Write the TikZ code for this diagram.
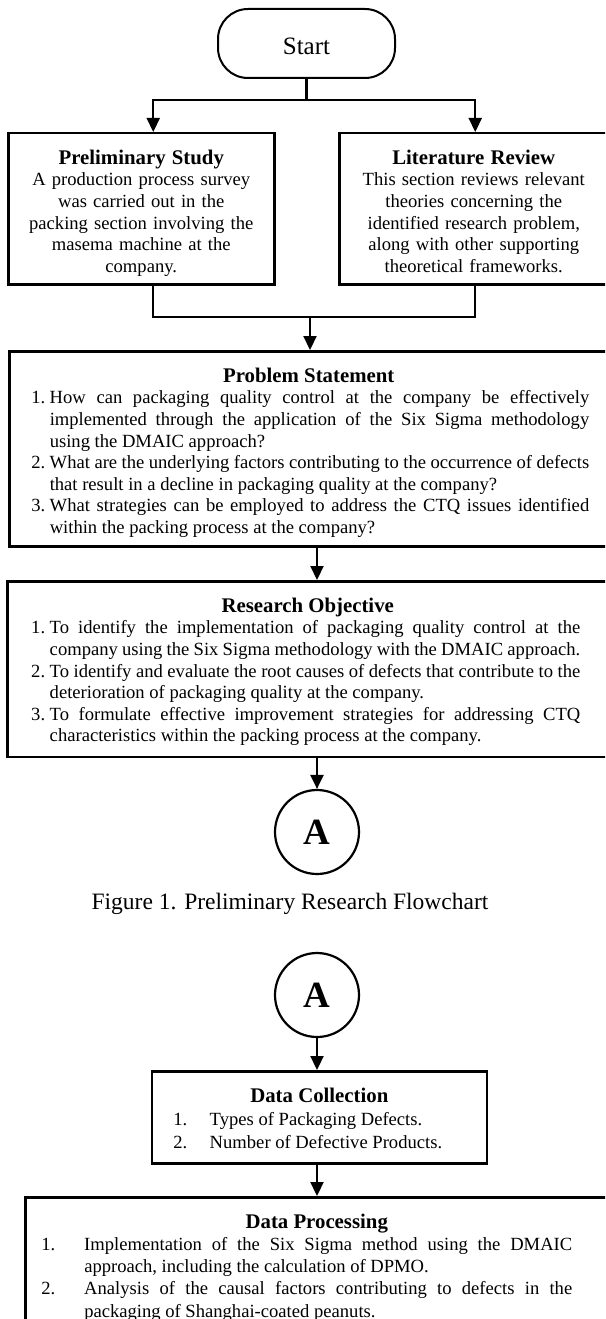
\documentclass[tikz,border=0pt]{standalone}
\usepackage{fontspec}
\setmainfont{Liberation Serif}
\usetikzlibrary{arrows.meta,positioning}

\newcommand{\headfont}{\fontsize{20.8}{21.6}\selectfont\bfseries}
\newcommand{\boxhead}[1]{\rule{0pt}{31pt}{\centering\headfont #1\par}}
\newcommand{\numitem}[3]{\hangindent=#2\hangafter=1\noindent\makebox[#2][l]{#1}#3\par}
\newcommand{\botpad}[1]{\rule[-#1]{0pt}{#1}}

\begin{document}
\begin{tikzpicture}[x=1pt, y=-1pt,
	font=\fontsize{18.6}{21.6}\selectfont,
	link/.style={line width=2.2pt},
	flow/.style={link, -{Triangle[length=14pt,width=13pt]}},
	bigbox/.style={draw, line width=2.5pt, inner xsep=4pt, inner ysep=0pt, anchor=north west},
	connector/.style={draw, circle, line width=2.2pt, minimum size=84pt, inner sep=0pt, font=\fontsize{37}{37}\selectfont\bfseries}]
		\useasboundingbox (0,0) rectangle (605,1319);
		\clip (0,0) rectangle (605,1319);
		% Start
		\node[draw, line width=2pt, rounded corners=30pt, minimum width=177pt, minimum height=69pt, text height=22pt, font=\fontsize{25}{25}\selectfont] (start) at (306.5,43.5) {Start};
		\coordinate[below=21pt of start] (split);
		% Study and review
		\node[bigbox, align=center, text width=258pt] (prelim) at (7,132) {\rule{0pt}{31pt}{\headfont Preliminary Study}\\A production process survey\\was carried out in the\\packing section involving the\\masema machine at the\\company.\botpad{12pt}};
		\node[bigbox, align=center, text width=261pt] (litrev) at (338,132) {\rule{0pt}{31pt}{\headfont Literature Review}\\This section reviews relevant\\theories concerning the\\identified research problem,\\along with other supporting\\theoretical frameworks.\botpad{12pt}};
		\draw[flow] (start) -- (split) -| ([xshift=12pt]prelim.north);
		\draw[flow] (split) -| ([xshift=1.5pt]litrev.north);
		% Problem statement
		\node[bigbox, align=justify, text width=591pt] (problem) at (8,350) {\boxhead{Problem Statement}
			{\leftskip=18pt\rightskip=15pt
			\numitem{1.}{18.5pt}{How can packaging quality control at the company be effectively\linebreak implemented through the application of the Six Sigma methodology\linebreak using the DMAIC approach?}
			\numitem{2.}{18.5pt}{What are the underlying factors contributing to the occurrence of defects\linebreak that result in a decline in packaging quality at the company?}
			\numitem{3.}{18.5pt}{What strategies can be employed to address the CTQ issues identified\linebreak within the packing process at the company?\botpad{13pt}}}};
		\coordinate (merge) at (310,317);
		\draw[link] ([xshift=12pt]prelim.south) |- (merge) -| ([xshift=1.5pt]litrev.south);
		\draw[flow] (merge) -- (merge |- problem.north);
		% Research objective
		\node[bigbox, align=justify, text width=593pt] (objective) at (6,580) {\boxhead{Research Objective}
			{\leftskip=20pt\rightskip=24pt
			\numitem{1.}{18.5pt}{To identify the implementation of packaging quality control at the\linebreak company using the Six Sigma methodology with the DMAIC approach.}
			\numitem{2.}{18.5pt}{To identify and evaluate the root causes of defects that contribute to the\linebreak deterioration of packaging quality at the company.}
			\numitem{3.}{18.5pt}{To formulate effective improvement strategies for addressing CTQ\linebreak characteristics within the packing process at the company.\botpad{15pt}}}};
		% Off-page connector
		\node[connector] (conA) at (317,832) {A};
		\draw[flow] (problem.south -| conA) -- (objective.north -| conA);
		\draw[flow] (objective.south -| conA) -- (conA);
		\node[anchor=base, font=\fontsize{23.5}{23.5}\selectfont] (figcap) at (290,909) {Figure 1. Preliminary Research Flowchart};
		% Second part
		\node[connector] (conB) at (317,995) {A};
		\node[bigbox, align=justify, text width=327pt] (collect) at (150.6,1070) {\boxhead{Data Collection}
			{\fontsize{18.6}{23}\selectfont\leftskip=17.4pt
			\numitem{1.}{36.5pt}{Types of Packaging Defects.}
			\numitem{2.}{36.5pt}{Number of Defective Products.\botpad{15pt}}}};
		\node[bigbox, align=justify, text width=575pt] (process) at (24,1196) {\boxhead{Data Processing}
			{\fontsize{18.6}{22.2}\selectfont\leftskip=12pt\rightskip=32pt
			\numitem{1.}{43pt}{Implementation of the Six Sigma method using the DMAIC\linebreak approach, including the calculation of DPMO.}
			\numitem{2.}{43pt}{Analysis of the causal factors contributing to defects in the\linebreak packaging of Shanghai-coated peanuts.\botpad{20pt}}}};
		\draw[flow] (conB) -- (collect.north -| conB);
		\draw[flow] (collect.south -| conB) -- (process.north -| conB);
	\end{tikzpicture}
\end{document}
